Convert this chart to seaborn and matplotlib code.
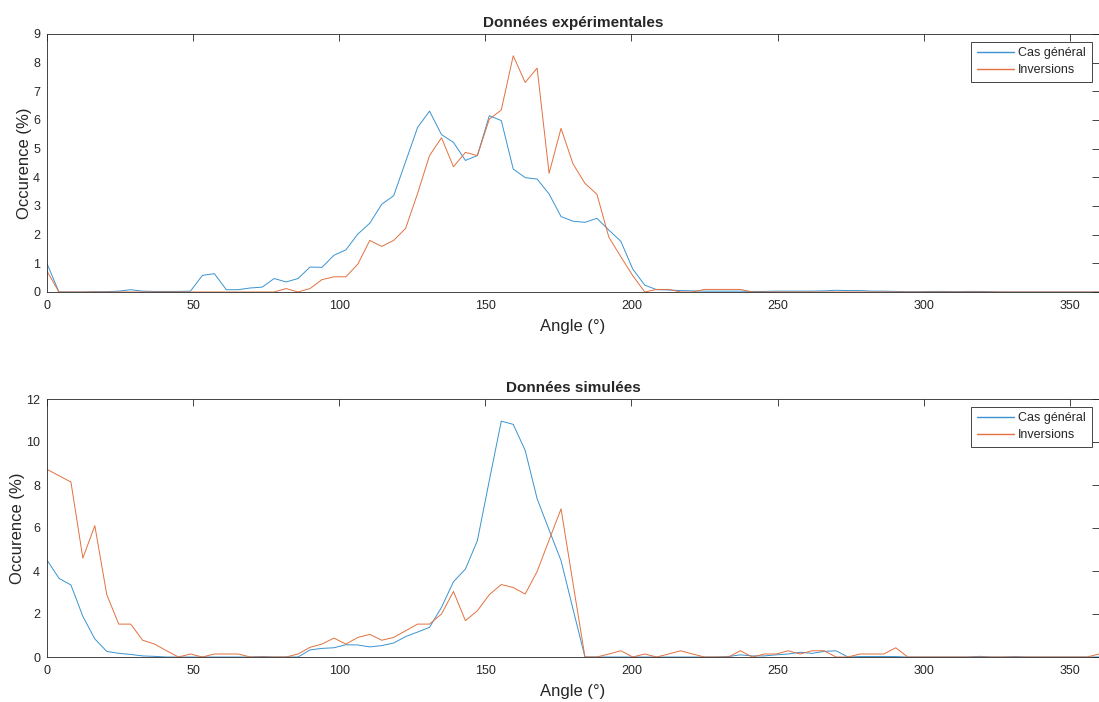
import numpy as np
import pandas as pd
import seaborn as sns
import matplotlib.pyplot as plt

# angle bins: 89 points from 0 to 360 deg
angles = np.linspace(0, 360, 89)

# experimental data (%)
exp_general = [0.99, 0, 0, 0, 0.01, 0.01, 0.03, 0.08, 0.03, 0.02,
               0.02, 0.02, 0.03, 0.58, 0.64, 0.08, 0.08, 0.14, 0.17, 0.47,
               0.35, 0.47, 0.87, 0.86, 1.28, 1.47, 2.02, 2.40, 3.06, 3.36,
               4.55, 5.74, 6.31, 5.49, 5.22, 4.59, 4.76, 6.15, 5.98, 4.29,
               3.99, 3.94, 3.42, 2.63, 2.47, 2.43, 2.57, 2.16, 1.77, 0.80,
               0.24, 0.08, 0.07, 0.05, 0.04, 0.03, 0.03, 0.03, 0.03, 0.02,
               0.02, 0.03, 0.03, 0.03, 0.03, 0.04, 0.06, 0.05, 0.05, 0.03,
               0.03, 0.02, 0.01, 0.01, 0.02, 0.02, 0.01, 0.02, 0.02, 0.01,
               0, 0, 0, 0, 0, 0, 0, 0, 0]
exp_inv = [0.73, 0, 0, 0, 0, 0, 0, 0, 0, 0,
           0, 0, 0, 0, 0, 0, 0, 0, 0, 0,
           0.12, 0, 0.12, 0.43, 0.53, 0.53, 0.97, 1.80, 1.59, 1.80,
           2.22, 3.44, 4.76, 5.38, 4.37, 4.87, 4.76, 6.03, 6.35, 8.24,
           7.31, 7.81, 4.14, 5.71, 4.47, 3.79, 3.41, 1.91, 1.23, 0.57,
           0, 0.09, 0.09, 0, 0, 0.09, 0.09, 0.09, 0.09, 0,
           0, 0, 0, 0, 0, 0, 0, 0, 0, 0,
           0, 0, 0, 0, 0, 0, 0, 0, 0, 0,
           0, 0, 0, 0, 0, 0, 0, 0, 0]

# simulated data (%)
sim_general = [4.51, 3.66, 3.35, 1.89, 0.84, 0.26, 0.17, 0.12, 0.05, 0.03,
               0, 0, 0, 0, 0, 0, 0, 0, 0.02, 0,
               0, 0, 0.33, 0.40, 0.43, 0.57, 0.56, 0.47, 0.53, 0.65,
               0.95, 1.16, 1.38, 2.31, 3.50, 4.09, 5.41, 8.21, 10.97, 10.82,
               9.61, 7.36, 5.91, 4.48, 2.23, 0, 0, 0, 0, 0,
               0, 0, 0, 0, 0, 0, 0, 0.02, 0.10, 0.05,
               0.05, 0.10, 0.14, 0.22, 0.17, 0.26, 0.29, 0, 0.02, 0.02,
               0.02, 0.02, 0, 0, 0, 0, 0, 0, 0.03, 0,
               0, 0.02, 0, 0, 0, 0, 0, 0, 0]
sim_inv = [8.73, 8.43, 8.14, 4.60, 6.11, 2.90, 1.53, 1.53, 0.78, 0.60,
           0.29, 0, 0.14, 0, 0.14, 0.14, 0.14, 0, 0, 0,
           0, 0.14, 0.45, 0.60, 0.88, 0.60, 0.91, 1.05, 0.78, 0.91,
           1.22, 1.53, 1.53, 2.00, 3.05, 1.69, 2.15, 2.90, 3.37, 3.23,
           2.93, 3.98, 5.44, 6.89, 3.43, 0, 0, 0.14, 0.29, 0,
           0.14, 0, 0.14, 0.29, 0.14, 0, 0, 0, 0.29, 0,
           0.14, 0.14, 0.29, 0.14, 0.29, 0.29, 0, 0, 0.14, 0.14,
           0.14, 0.43, 0, 0, 0, 0, 0, 0, 0, 0,
           0, 0, 0, 0, 0, 0, 0, 0, 0.14]

series_names = ["Cas général", "Inversions"]
titles = ["Données expérimentales", "Données simulées"]
colors = ["#3A93D0", "#E2713F"]

sns.set_style("white")
plt.rcParams['font.family'] = ['Liberation Sans', 'DejaVu Sans']

fig = plt.figure(figsize=(10.99, 7.02), dpi=100)
ax1 = fig.add_axes([47 / 1099, 1 - 292 / 702, 1052 / 1099, 258 / 702])
ax2 = fig.add_axes([47 / 1099, 1 - 657 / 702, 1052 / 1099, 258 / 702])

datasets = [(exp_general, exp_inv), (sim_general, sim_inv)]
yticks = [np.arange(0, 10, 1), np.arange(0, 13, 2)]
ylims = [(0, 9), (0, 12)]

for ax, (gen, inv), title, yt, yl in zip([ax1, ax2], datasets, titles, yticks, ylims):
    df = pd.DataFrame({
        "angle": np.concatenate([angles, angles]),
        "value": gen + inv,
        "serie": [series_names[0]] * len(angles) + [series_names[1]] * len(angles),
    })
    sns.lineplot(data=df, x="angle", y="value", hue="serie", palette=colors,
                 linewidth=0.7, ax=ax, sort=False)
    ax.set_xlim(0, 360)
    ax.set_ylim(*yl)
    ax.set_xticks(np.arange(0, 351, 50))
    ax.set_yticks(yt)
    ax.set_xlabel("Angle (°)", fontsize=12, color="#262626", labelpad=5)
    ax.set_ylabel("Occurence (%)", fontsize=12, color="#262626", labelpad=1)
    ax.set_title(title, fontsize=11, fontweight="bold", pad=5)
    ax.tick_params(direction="in", top=True, right=True, length=5, width=0.6,
                   labelsize=9, colors="#262626")
    ax.tick_params(axis="x", pad=6)
    ax.tick_params(axis="y", pad=5)
    for s in ax.spines.values():
        s.set_color("#262626")
        s.set_linewidth(0.6)
    leg = ax.legend(loc="upper right", fontsize=9, fancybox=False, framealpha=1,
                    edgecolor="#262626", handlelength=3.0, borderpad=0.45,
                    labelspacing=0.4, handletextpad=0.3, borderaxespad=0.6)
    leg.get_frame().set_linewidth(0.6)
    for t in leg.get_texts():
        t.set_color("#262626")
    for h in leg.get_lines():
        h.set_linewidth(1.0)

fig.savefig("out.png", dpi=100)
